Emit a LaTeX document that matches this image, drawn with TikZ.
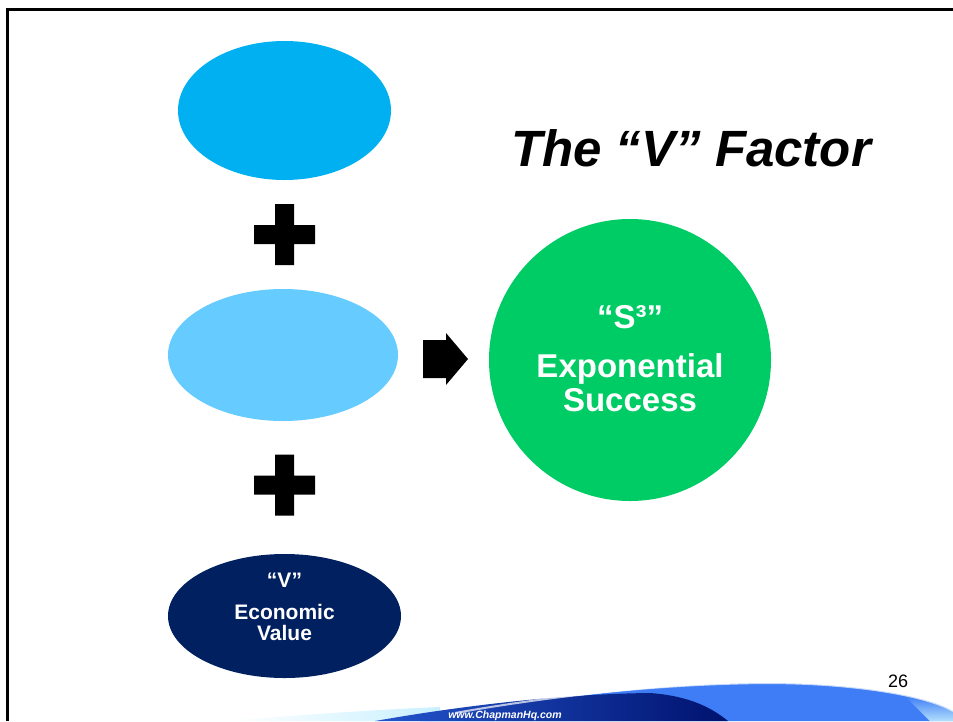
\documentclass[tikz,border=0pt]{standalone}
\usepackage{fontspec}
\setmainfont{Liberation Sans}
\usetikzlibrary{shapes.geometric,calc}
\definecolor{topblue}{HTML}{00B0F0}
\definecolor{midblue}{HTML}{66CCFF}
\definecolor{deepnavy}{HTML}{002060}
\definecolor{successgreen}{HTML}{00CC66}
\definecolor{swooshblue}{RGB}{62,125,245}
\definecolor{swooshnavy}{RGB}{0,18,110}
\definecolor{swooshmid}{RGB}{35,85,205}
\definecolor{swooshglow}{RGB}{200,240,255}
\begin{document}
\begin{tikzpicture}[x=1pt,y=-1pt,
  blob/.style={ellipse, inner sep=0pt, draw=none},
  whitetext/.style={text=white, inner sep=0pt, anchor=base},
  bigwhite/.style={whitetext, font=\fontsize{33}{36}\selectfont\bfseries},
  smallwhite/.style={whitetext, font=\fontsize{21}{23}\selectfont\bfseries},
  crossmark/.pic={\fill[black] (-9.5,-30.5) -- (9.5,-30.5) -- (9.5,-9.5) -- (30.5,-9.5)
      -- (30.5,9.5) -- (9.5,9.5) -- (9.5,30.5) -- (-9.5,30.5) -- (-9.5,9.5)
      -- (-30.5,9.5) -- (-30.5,-9.5) -- (-9.5,-9.5) -- cycle;},
  blockarrow/.pic={\fill[black] (-23,-19) -- (0,-19) -- (0,-26) -- (22,0)
      -- (0,26) -- (0,19) -- (-23,19) -- cycle;}]
\useasboundingbox (0,0) rectangle (953,721);
\fill[white] (0,0) rectangle (953,721);

% slide frame
\draw[line width=3pt] (7,721) -- (7,9.5) -- (953,9.5);

% footer swoosh
\shade[left color=white, right color=swooshglow] (225,721) .. controls (300,715) and (370,710) .. (440,707) -- (440,721) -- cycle;
\fill[swooshblue] (420,721) .. controls (530,700) and (650,684) .. (765,683)
  .. controls (860,683) and (930,697) .. (953,711) -- (953,721) -- cycle;
\shade[top color=swooshblue, bottom color=swooshglow, opacity=0.85] (905,696) .. controls (930,702) and (945,706) .. (953,711) -- (953,721) -- (930,721) -- cycle;
\shade[left color=swooshmid, right color=swooshnavy] (375,721) .. controls (460,706) and (560,694) .. (650,693)
  .. controls (690,696) and (712,708) .. (728,721) -- cycle;
\draw[white, line width=2pt, opacity=0.7] (455,713) .. controls (545,697) and (655,684) .. (765,683)
  .. controls (860,683) and (930,697) .. (953,711);
\node[text=white, font=\fontsize{10.5}{12}\selectfont\bfseries\itshape, inner sep=0pt, anchor=base] (web) at (505,718) {www.ChapmanHq.com};

% the three inputs
\node[blob, fill=topblue, minimum width=213pt, minimum height=139pt] (goal) at (284.5,110.5) {};
\node[blob, fill=midblue, minimum width=230pt, minimum height=132pt] (mid) at (283,355) {};
\node[blob, fill=deepnavy, minimum width=233pt, minimum height=124pt] (econ) at (284.5,616) {};
\node[smallwhite] (vq) at (284.5,587) {“V”};
\node[smallwhite] (econA) at (284.5,619) {Economic};
\node[smallwhite] (econB) at (284.5,640) {Value};

% plus signs and arrow
\coordinate (plusA) at (284.5,234.5);
\coordinate (plusB) at (284.5,485);
\coordinate (arrowC) at (446,359);
\pic at (plusA) {crossmark};
\pic at (plusB) {crossmark};
\pic at (arrowC) {blockarrow};

% the result
\node[circle, fill=successgreen, minimum size=282pt, inner sep=0pt] (succ) at (630,360) {};
\node[bigwhite] (s3) at (630,328) {“S³”};
\node[bigwhite] (expo) at (630,377) {Exponential};
\node[bigwhite] (succtext) at (630,411) {Success};

% title and page number
\node[font=\fontsize{51}{60}\selectfont\bfseries\itshape, inner sep=0pt, anchor=base] (title) at (691,166) {The “V” Factor};
\node[font=\fontsize{18}{20}\selectfont, inner sep=0pt, anchor=base] (page) at (898,687) {26};
\end{tikzpicture}
\end{document}
